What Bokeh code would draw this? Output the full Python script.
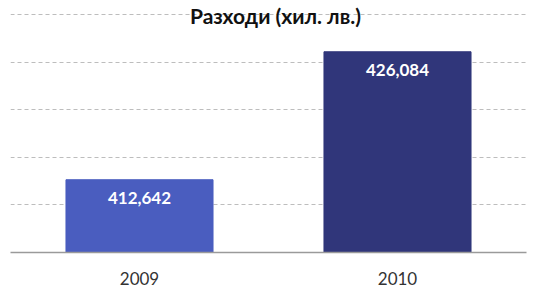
from bokeh.plotting import figure
from bokeh.models import ColumnDataSource, Range1d, FixedTicker, Label, LabelSet
from bokeh.core.properties import value
from bokeh.embed import file_html
from bokeh.resources import INLINE

# data
years = ["2009", "2010"]
values = [412642, 426084]
bar_colors = ["#4a5dbf", "#30367a"]
value_labels = [f"{v:,}" for v in values]
y_ticks = [405000, 410000, 415000, 420000, 425000, 430000]
title_text = "Разходи (хил. лв.)"

FONT = "Lato"

# frame spans the full height above the axis; top grid line sits 14px below the top
frame_h = 252
grid_h = 238
y_top = y_ticks[0] + (y_ticks[-1] - y_ticks[0]) * frame_h / grid_h

src = ColumnDataSource(dict(years=years, values=values, colors=bar_colors, labels=value_labels))

p = figure(width=534, height=288, x_range=years, y_range=Range1d(y_ticks[0], y_top),
           output_backend="svg", toolbar_location=None, title=None,
           min_border_left=10, min_border_right=8, min_border_top=0, min_border_bottom=36)
p.outline_line_color = None
p.background_fill_color = "white"
p.border_fill_color = "white"

p.vbar(x="years", top="values", bottom=y_ticks[0], width=0.57, source=src,
       fill_color="colors", line_color="colors")

p.add_layout(LabelSet(x="years", y="values", text="labels", source=src, y_offset=-18,
                      text_align="center", text_baseline="middle", text_color="white",
                      text_font=value(FONT), text_font_style="bold", text_font_size="17px"))

p.add_layout(Label(x=1.0, y=y_ticks[-1], x_offset=7, y_offset=-1, text=title_text,
                   text_align="center", text_baseline="alphabetic", text_color="#111111",
                   text_font=FONT, text_font_style="bold", text_font_size="21px"))

p.yaxis.visible = False
p.yaxis.ticker = FixedTicker(ticks=y_ticks)
p.ygrid.ticker = FixedTicker(ticks=y_ticks)
p.ygrid.grid_line_color = "#bdbdbd"
p.ygrid.grid_line_dash = "4 3"
p.ygrid.grid_line_width = 1
p.xgrid.grid_line_color = None

p.xaxis.axis_line_color = "#9a9a9a"
p.xaxis.axis_line_width = 1.5
p.xaxis.major_tick_line_color = None
p.xaxis.minor_tick_line_color = None
p.xaxis.major_tick_out = 0
p.xaxis.major_tick_in = 0
p.xaxis.major_label_standoff = 19
p.xaxis.major_label_text_font = FONT
p.xaxis.major_label_text_font_size = "17px"
p.xaxis.major_label_text_color = "#333333"
p.x_range.range_padding = 0

open("out.html", "w").write(file_html(p, INLINE))
